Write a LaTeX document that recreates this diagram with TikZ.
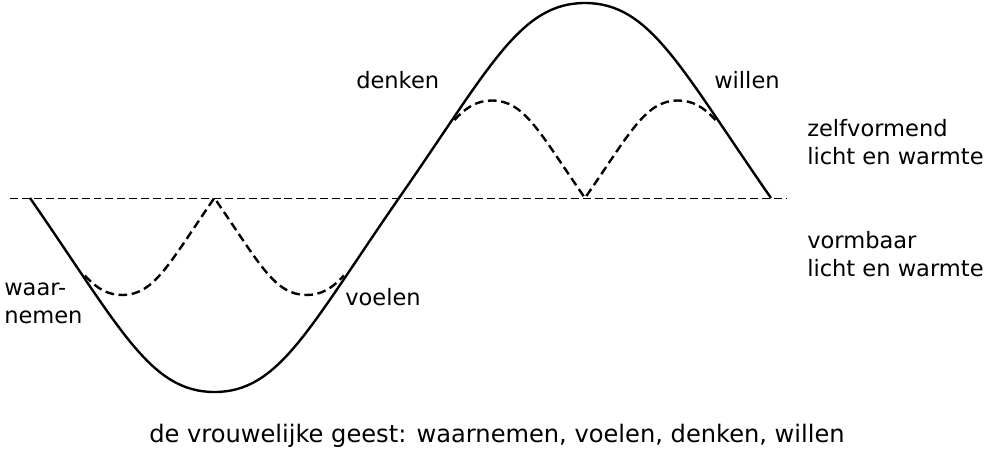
\documentclass[tikz,border=0pt]{standalone}
\usepackage{fontspec}
\setmainfont{DejaVu Sans}
\begin{document}
\begin{tikzpicture}[x=0.0265cm,y=-0.0265cm,
	wave/.style={line width=1.8pt, line join=round},
	echo/.style={line width=1.8pt, dash pattern=on 6.5pt off 3.5pt},
	axisline/.style={line width=0.75pt, dash pattern=on 6pt off 3pt},
	word/.style={font=\fontsize{17}{21}\selectfont, inner sep=0pt, align=left}]
	\useasboundingbox (0,0) rectangle (989,451);
	% rest line
	\draw[axisline] (10,198) -- (786,198);
	% solid wave: trough, then crest
	\draw[wave] (30,198) .. controls (120.4,328.4) and (149.9,392) .. (214.5,392)
		.. controls (279.1,392) and (308.6,328.4) .. (399,198)
		.. controls (490.1,67) and (519.9,3) .. (585,3)
		.. controls (650.1,3) and (679.9,67) .. (771,198);
	% dashed half waves inside trough and crest
	\begin{scope}[shift={(30,198)}, x=2.4433cm, y=-2.5705cm]
		\draw[echo] (0.5956,0.7993) .. controls (0.7235,0.9336) and (0.8425,1) .. (1,1)
			.. controls (1.35,1) and (1.51,0.672) .. (2,0)
			.. controls (2.49,0.672) and (2.65,1) .. (3,1)
			.. controls (3.1575,1) and (3.2765,0.9336) .. (3.4044,0.7993);
	\end{scope}
	\begin{scope}[shift={(399,198)}, x=2.4645cm, y=2.58375cm]
		\draw[echo] (0.5956,0.7993) .. controls (0.7235,0.9336) and (0.8425,1) .. (1,1)
			.. controls (1.35,1) and (1.51,0.672) .. (2,0)
			.. controls (2.49,0.672) and (2.65,1) .. (3,1)
			.. controls (3.1575,1) and (3.2765,0.9336) .. (3.4044,0.7993);
	\end{scope}
	% labels
	\node[word, anchor=base west] (denken) at (356,88) {denken};
	\node[word, anchor=base west] (willen) at (714,88) {willen};
	\node[word, anchor=base west] (voelen) at (345,305) {voelen};
	\node[word, anchor=base west] (waarnemen) at (4,323) {waar-\\nemen};
	\node[word, anchor=base west] (zelf) at (807,164) {zelfvormend\\licht en warmte};
	\node[word, anchor=base west] (vorm) at (807,276) {vormbaar\\licht en warmte};
	\node[word, font=\fontsize{18.2}{21}\selectfont, anchor=base] (caption) at (497,442) {de vrouwelijke geest: waarnemen, voelen, denken, willen};
\end{tikzpicture}
\end{document}
